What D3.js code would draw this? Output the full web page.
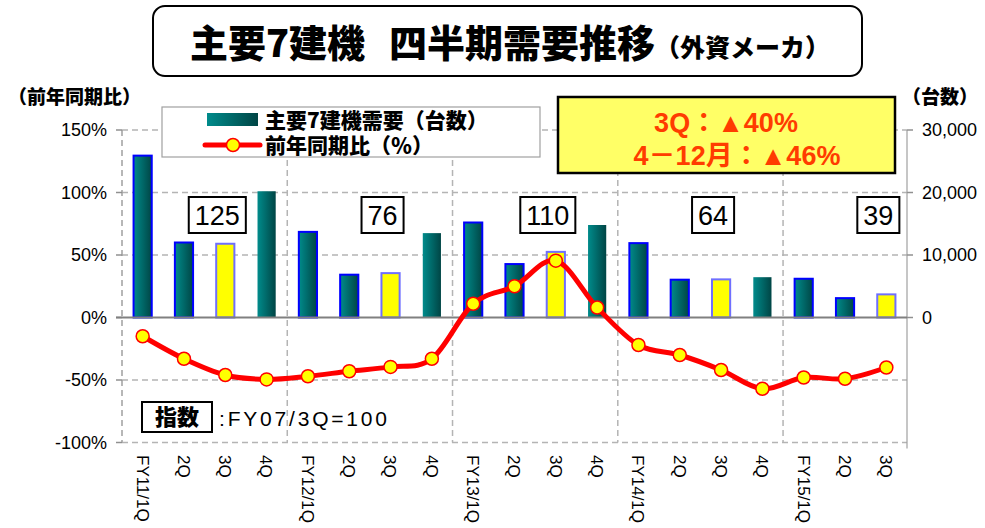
<!DOCTYPE html>
<html>
<head>
<meta charset="utf-8">
<title>主要7建機 四半期需要推移</title>
<script src="https://cdn.jsdelivr.net/npm/d3@7"></script>
<style>
  body { margin: 0; background: #fff; }
  svg { display: block; }
</style>
</head>
<body>
<div id="chartDiv"></div>
<script>
// ---- data ----
const quarters = ["FY11/1Q","2Q","3Q","4Q","FY12/1Q","2Q","3Q","4Q","FY13/1Q","2Q","3Q","4Q","FY14/1Q","2Q","3Q","4Q","FY15/1Q","2Q","3Q"];
const demand = [25900,12000,11800,20200,13700,6850,7100,13500,15200,8550,10500,14800,11900,6050,6100,6450,6200,3100,3700];
const yoy = [-15,-33,-46,-49.5,-47,-43,-39.5,-33,11,25,45.5,8,-22,-30,-42,-57,-48,-49,-40];
const indexValues = ["125","76","110","64","39"];
const indexAt = [2,6,10,14,18];
const leftTicks = [-100,-50,0,50,100,150];
const rightTicks = [0,10000,20000,30000];

const W = 985, H = 528;
const plot = { left: 122, right: 907, top: 130, bottom: 442.5 };

const latin = "'Liberation Sans', Arial, 'Noto Sans CJK JP', sans-serif";
const jp = "'Noto Sans CJK JP', sans-serif";

const svg = d3.select("#chartDiv").append("svg")
  .attr("width", W).attr("height", H);

// gradient for the demand bars
const defs = svg.append("defs");
const grad = defs.append("linearGradient").attr("id", "tealGrad")
  .attr("x1", "0%").attr("x2", "100%").attr("y1", "0%").attr("y2", "0%");
grad.append("stop").attr("offset", "0%").attr("stop-color", "#008b8b");
grad.append("stop").attr("offset", "100%").attr("stop-color", "#004545");

// scales
const x = d3.scaleBand()
  .domain(d3.range(quarters.length))
  .range([plot.left, plot.right])
  .paddingInner(0.56).paddingOuter(0.28);
const step = x.step();
const cx = i => x(i) + x.bandwidth() / 2;

const yL = d3.scaleLinear().domain([-100, 150]).range([plot.bottom, plot.top]);
const yR = d3.scaleLinear().domain([-20000, 30000]).range([plot.bottom, plot.top]);

// ---- title ----
svg.append("rect")
  .attr("x", 153).attr("y", 6).attr("width", 709).attr("height", 70)
  .attr("rx", 12).attr("fill", "#fff").attr("stroke", "#000").attr("stroke-width", 2);
const title = svg.append("text")
  .attr("x", 510).attr("y", 57)
  .attr("text-anchor", "middle")
  .style("font-family", jp).style("font-weight", 900);
title.append("tspan").style("font-size", "38px").text("主要7建機");
title.append("tspan").attr("dx", 24).style("font-size", "38px").text("四半期需要推移");
title.append("tspan").style("font-size", "25px").text("（外資メーカ）");

// ---- axis titles ----
svg.append("text").attr("x", 8).attr("y", 104)
  .style("font-family", jp).style("font-weight", 900).style("font-size", "19px")
  .text("（前年同期比）");
svg.append("text").attr("x", 902).attr("y", 104)
  .style("font-family", jp).style("font-weight", 900).style("font-size", "19px")
  .text("（台数）");

// ---- grid ----
const grid = svg.append("g");
grid.selectAll("line.h")
  .data(leftTicks.filter(d => d !== 0))
  .enter().append("line")
  .attr("x1", plot.left).attr("x2", plot.right)
  .attr("y1", d => yL(d)).attr("y2", d => yL(d))
  .attr("stroke", "#b4b4b4").attr("stroke-width", 1.5).attr("stroke-dasharray", "6,4");

// year boundaries
const yearStarts = quarters.map((q, i) => q.startsWith("FY") ? i : -1).filter(i => i > 0);
grid.selectAll("line.v")
  .data(yearStarts)
  .enter().append("line")
  .attr("x1", i => x(i) - step * x.paddingInner() / 2)
  .attr("x2", i => x(i) - step * x.paddingInner() / 2)
  .attr("y1", plot.top).attr("y2", plot.bottom)
  .attr("stroke", "#b4b4b4").attr("stroke-width", 1.5).attr("stroke-dasharray", "6,4");

// left axis (dashed) and right axis (solid)
grid.append("line")
  .attr("x1", plot.left).attr("x2", plot.left)
  .attr("y1", plot.top).attr("y2", plot.bottom)
  .attr("stroke", "#a0a0a0").attr("stroke-width", 1.5).attr("stroke-dasharray", "6,4");
grid.append("line")
  .attr("x1", plot.right).attr("x2", plot.right)
  .attr("y1", plot.top).attr("y2", plot.bottom + 6)
  .attr("stroke", "#a0a0a0").attr("stroke-width", 1.2);

// left ticks + labels
const lAxis = svg.append("g");
lAxis.selectAll("line").data(leftTicks).enter().append("line")
  .attr("x1", plot.left - 6).attr("x2", plot.left)
  .attr("y1", d => yL(d)).attr("y2", d => yL(d))
  .attr("stroke", "#909090").attr("stroke-width", 1.5);
lAxis.selectAll("text").data(leftTicks).enter().append("text")
  .attr("x", 107).attr("y", d => yL(d))
  .attr("dy", "0.36em").attr("text-anchor", "end")
  .style("font-family", latin).style("font-size", "18px")
  .text(d => d + "%");

// right ticks + labels
const rAxis = svg.append("g");
rAxis.selectAll("line").data(rightTicks).enter().append("line")
  .attr("x1", plot.right).attr("x2", plot.right + 6)
  .attr("y1", d => yR(d)).attr("y2", d => yR(d))
  .attr("stroke", "#909090").attr("stroke-width", 1.5);
rAxis.selectAll("text").data(rightTicks).enter().append("text")
  .attr("x", 922).attr("y", d => yR(d))
  .attr("dy", "0.36em")
  .style("font-family", latin).style("font-size", "18px")
  .text(d => d3.format(",")(d));

// x labels (rotated)
svg.append("g").selectAll("text")
  .data(quarters).enter().append("text")
  .attr("transform", (d, i) => `translate(${cx(i)},455) rotate(90)`)
  .attr("dy", "0.36em")
  .style("font-family", latin).style("font-size", "17px")
  .text(d => d);

// ---- bars ----
const barFill = q => q.endsWith("3Q") ? "#ffff00" : "url(#tealGrad)";
const barStroke = q => q.endsWith("4Q") ? "none" : (q.endsWith("3Q") ? "#6f6fff" : "#0000ff");
svg.append("g").selectAll("rect")
  .data(demand).enter().append("rect")
  .attr("x", (d, i) => x(i))
  .attr("width", x.bandwidth())
  .attr("y", d => yR(d))
  .attr("height", d => yR(0) - yR(d))
  .attr("fill", (d, i) => barFill(quarters[i]))
  .attr("stroke", (d, i) => barStroke(quarters[i]))
  .attr("stroke-width", 2);

// zero line
svg.append("line")
  .attr("x1", plot.left - 6).attr("x2", plot.right)
  .attr("y1", yL(0)).attr("y2", yL(0))
  .attr("stroke", "#808080").attr("stroke-width", 2);

// ---- index boxes ----
const idx = svg.append("g").selectAll("g")
  .data(indexValues).enter().append("g")
  .attr("transform", (d, k) => `translate(${cx(indexAt[k]) - 8},${yL(82)})`);
idx.append("text")
  .attr("text-anchor", "middle").attr("dy", "0.36em")
  .style("font-family", latin).style("font-size", "27px")
  .text(d => d);
idx.each(function() {
  const g = d3.select(this);
  const bb = g.select("text").node().getBBox();
  g.insert("rect", "text")
    .attr("x", bb.x - 6).attr("y", -18)
    .attr("width", bb.width + 12).attr("height", 36)
    .attr("fill", "#fff").attr("stroke", "#000").attr("stroke-width", 2);
});

// ---- line ----
const line = d3.line()
  .x((d, i) => cx(i))
  .y(d => yL(d))
  .curve(d3.curveCardinal.tension(0));
svg.append("path")
  .datum(yoy)
  .attr("d", line)
  .attr("fill", "none").attr("stroke", "#ff0000").attr("stroke-width", 5)
  .attr("stroke-linejoin", "round");
svg.append("g").selectAll("circle")
  .data(yoy).enter().append("circle")
  .attr("cx", (d, i) => cx(i)).attr("cy", d => yL(d))
  .attr("r", 6.5)
  .attr("fill", "#ffff00").attr("stroke", "#ff0000").attr("stroke-width", 1.5);

// ---- legend ----
const legend = svg.append("g");
legend.append("rect")
  .attr("x", 162).attr("y", 107).attr("width", 378).attr("height", 50)
  .attr("fill", "#fff").attr("stroke", "#a0a0a0").attr("stroke-width", 1.2);
legend.append("rect")
  .attr("x", 207).attr("y", 113).attr("width", 51).attr("height", 13)
  .attr("fill", "url(#tealGrad)");
legend.append("text")
  .attr("x", 265).attr("y", 120).attr("dy", "0.36em")
  .style("font-family", jp).style("font-weight", 900).style("font-size", "21px")
  .text("主要7建機需要（台数）");
legend.append("line")
  .attr("x1", 205).attr("x2", 260).attr("y1", 145).attr("y2", 145)
  .attr("stroke", "#ff0000").attr("stroke-width", 5).attr("stroke-linecap", "round");
legend.append("circle")
  .attr("cx", 233).attr("cy", 145).attr("r", 6.5)
  .attr("fill", "#ffff00").attr("stroke", "#ff0000").attr("stroke-width", 1.5);
legend.append("text")
  .attr("x", 265).attr("y", 145).attr("dy", "0.36em")
  .style("font-family", jp).style("font-weight", 900).style("font-size", "21px")
  .text("前年同期比（％）");

// ---- highlight box ----
const hb = svg.append("g");
hb.append("rect")
  .attr("x", 558).attr("y", 97).attr("width", 337).attr("height", 76)
  .attr("fill", "#ffff66").attr("stroke", "#000").attr("stroke-width", 2.5);
hb.append("text")
  .attr("x", 726).attr("y", 122).attr("dy", "0.36em").attr("text-anchor", "middle")
  .attr("fill", "#ff3c00")
  .style("font-family", latin).style("font-weight", 700).style("font-size", "27px")
  .text("3Q：▲40%");
hb.append("text")
  .attr("x", 737).attr("y", 155).attr("dy", "0.36em").attr("text-anchor", "middle")
  .attr("fill", "#ff3c00")
  .style("font-family", latin).style("font-weight", 700).style("font-size", "27px")
  .text("4－12月：▲46%");

// ---- index note ----
svg.append("rect")
  .attr("x", 142).attr("y", 402).attr("width", 70).attr("height", 30)
  .attr("fill", "#fff").attr("stroke", "#000").attr("stroke-width", 2);
svg.append("text")
  .attr("x", 177).attr("y", 417).attr("dy", "0.36em").attr("text-anchor", "middle")
  .style("font-family", jp).style("font-weight", 900).style("font-size", "22px")
  .text("指数");
svg.append("text")
  .attr("x", 219).attr("y", 418).attr("dy", "0.36em")
  .style("font-family", latin).style("font-size", "21px").style("letter-spacing", "2.8px")
  .text(":FY07/3Q=100");
</script>
</body>
</html>
